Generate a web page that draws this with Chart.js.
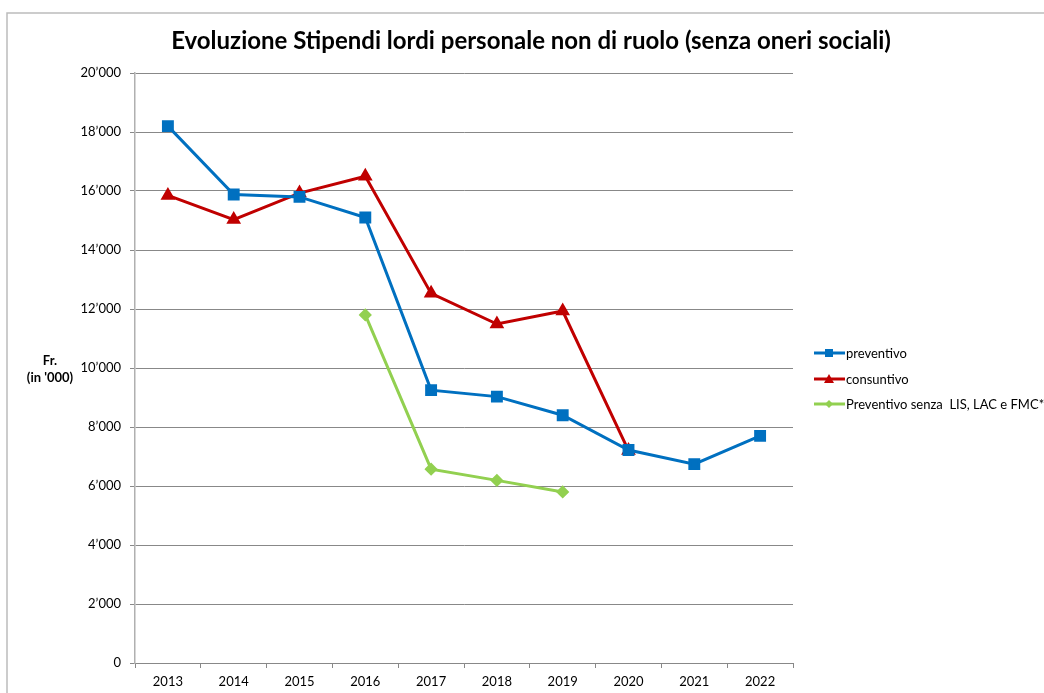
<!DOCTYPE html>
<html>
<head>
<meta charset="utf-8">
<script src="https://cdn.jsdelivr.net/npm/chart.js@4/dist/chart.umd.min.js"></script>
<style>
  html, body { margin: 0; padding: 0; background: #fff; }
  #wrap { width: 1044px; height: 693px; }
</style>
</head>
<body>
<div id="wrap"><canvas id="chart" width="1044" height="693"></canvas></div>
<script>
const FONT = "Lato, 'Open Sans', sans-serif";

const years = ["2013", "2014", "2015", "2016", "2017", "2018", "2019", "2020", "2021", "2022"];
const preventivo = [18200, 15880, 15800, 15100, 9250, 9030, 8400, 7220, 6740, 7700];
const consuntivo = [15850, 15030, 15930, 16500, 12530, 11490, 11930, 7200, null, null];
const senzaLis = [null, null, null, 11800, 6570, 6190, 5800, null, null, null];
const yTicks = [0, 2000, 4000, 6000, 8000, 10000, 12000, 14000, 16000, 18000, 20000];

const chartTitle = "Evoluzione Stipendi lordi personale non di ruolo (senza oneri sociali)";
const yTitle = ["Fr.", "(in '000)"];

function fmt(v) {
	if (v === 0) return "0";
	const s = String(v);
	return s.slice(0, s.length - 3) + "\u2019" + s.slice(-3);
}

// draws frame, title, y title and the legend
const decor = {
	id: "decor",
	beforeDraw(chart) {
		const ctx = chart.ctx;
		ctx.save();
		ctx.strokeStyle = "#bcbcbc";
		ctx.lineWidth = 1.5;
		ctx.beginPath();
		ctx.moveTo(7, 700);
		ctx.lineTo(7, 13);
		ctx.lineTo(1050, 13);
		ctx.stroke();
		ctx.restore();
	},
	afterDraw(chart) {
		const ctx = chart.ctx;
		ctx.save();
		ctx.fillStyle = "#000";
		ctx.textAlign = "center";
		ctx.textBaseline = "middle";
		ctx.font = "bold 24px " + FONT;
		ctx.fillText(chartTitle, 531, 41);

		ctx.font = "bold 13px " + FONT;
		ctx.fillText(yTitle[0], 50, 361);
		ctx.fillText(yTitle[1], 50, 378);

		// legend
		const ys = [353, 379, 404];
		chart.data.datasets.forEach((ds, i) => {
			const y = ys[i];
			ctx.strokeStyle = ds.borderColor;
			ctx.lineWidth = 3;
			ctx.beginPath();
			ctx.moveTo(814, y);
			ctx.lineTo(845, y);
			ctx.stroke();
			ctx.fillStyle = ds.borderColor;
			const x = 829;
			ctx.beginPath();
			if (ds.pointStyle === "rect") {
				ctx.rect(x - 4, y - 4, 8, 8);
			} else if (ds.pointStyle === "triangle") {
				ctx.moveTo(x, y - 5);
				ctx.lineTo(x + 5, y + 4);
				ctx.lineTo(x - 5, y + 4);
				ctx.closePath();
			} else {
				ctx.moveTo(x, y - 4);
				ctx.lineTo(x + 4, y);
				ctx.lineTo(x, y + 4);
				ctx.lineTo(x - 4, y);
				ctx.closePath();
			}
			ctx.fill();
			ctx.fillStyle = "#000";
			ctx.textAlign = "left";
			ctx.font = "13px " + FONT;
			ctx.fillText(ds.label, 846, y + 1);
		});
		ctx.restore();
	}
};

new Chart(document.getElementById("chart"), {
	type: "line",
	data: {
		labels: years,
		datasets: [
			{
				label: "preventivo",
				data: preventivo,
				borderColor: "#0070c0",
				backgroundColor: "#0070c0",
				borderWidth: 3,
				pointStyle: "rect",
				pointRadius: 6.3,
				pointHoverRadius: 6.3,
			},
			{
				label: "consuntivo",
				data: consuntivo,
				borderColor: "#c00000",
				backgroundColor: "#c00000",
				borderWidth: 3,
				pointStyle: "triangle",
				pointRadius: 5.5,
				pointHoverRadius: 5.5,
			},
			{
				label: "Preventivo senza  LIS, LAC e FMC*",
				data: senzaLis,
				borderColor: "#92d050",
				backgroundColor: "#92d050",
				borderWidth: 3,
				pointStyle: "rectRot",
				pointRadius: 4.5,
				pointHoverRadius: 4.5,
			},
		],
	},
	options: {
		responsive: false,
		animation: false,
		events: [],
		layout: { padding: { top: 73, right: 251, bottom: 0, left: 0 } },
		plugins: {
			legend: { display: false },
			title: { display: false },
			tooltip: { enabled: false },
		},
		scales: {
			x: {
				offset: true,
				grid: {
					offset: true,
					drawOnChartArea: false,
					drawTicks: true,
					tickLength: 5,
					color: "#888888",
				},
				border: { color: "#888888", width: 1 },
				ticks: {
					color: "#000",
					font: { family: FONT, size: 13 },
					padding: 6,
					maxRotation: 0,
				},
				afterFit(s) { s.height = 30; },
			},
			y: {
				min: 0,
				max: 20000,
				afterBuildTicks(s) { s.ticks = yTicks.map(v => ({ value: v })); },
				grid: {
					color: "#888888",
					lineWidth: 1,
					tickLength: 5,
				},
				border: { color: "#b0b0b0", width: 1.5 },
				ticks: {
					color: "#000",
					font: { family: FONT, size: 13 },
					padding: 9,
					callback: v => fmt(v),
				},
				afterFit(s) { s.width = 135; },
			},
		},
	},
	plugins: [decor],
});
</script>
</body>
</html>
